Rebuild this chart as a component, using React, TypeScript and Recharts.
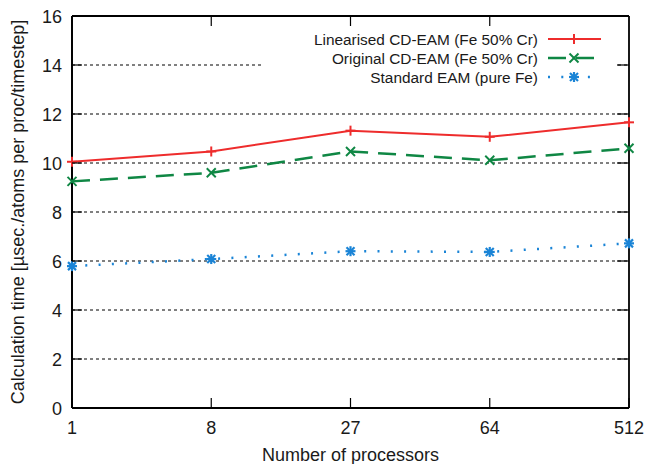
import {
  CartesianGrid,
  Legend,
  Line,
  LineChart,
  XAxis,
  YAxis,
} from "recharts";

const processors = ["1", "8", "27", "64", "512"];
const linearised = [10.05, 10.47, 11.32, 11.07, 11.66];
const original = [9.25, 9.6, 10.47, 10.11, 10.6];
const standard = [5.79, 6.08, 6.4, 6.37, 6.72];
const yTicks = [0, 2, 4, 6, 8, 10, 12, 14, 16];

const seriesNames = [
  "Linearised CD-EAM (Fe 50% Cr)",
  "Original CD-EAM (Fe 50% Cr)",
  "Standard EAM (pure Fe)",
];

const RED = "#ee2c2c";
const GREEN = "#0f8744";
const BLUE = "#1a84d6";
const FONT = "'Liberation Sans', Arial, Helvetica, sans-serif";

const data = processors.map((p, i) => ({
  procs: p,
  linearised: linearised[i],
  original: original[i],
  standard: standard[i],
}));

// gnuplot style point markers
const Plus = ({ cx, cy, color }: any) => (
  <g stroke={color} strokeWidth={2}>
    <line x1={cx - 5} x2={cx + 5} y1={cy} y2={cy} />
    <line x1={cx} x2={cx} y1={cy - 5} y2={cy + 5} />
  </g>
);

const Cross = ({ cx, cy, color }: any) => (
  <g stroke={color} strokeWidth={2}>
    <line x1={cx - 4.5} x2={cx + 4.5} y1={cy - 4.5} y2={cy + 4.5} />
    <line x1={cx - 4.5} x2={cx + 4.5} y1={cy + 4.5} y2={cy - 4.5} />
  </g>
);

const Star = ({ cx, cy, color }: any) => (
  <g stroke={color} strokeWidth={2.2}>
    <line x1={cx - 5} x2={cx + 5} y1={cy} y2={cy} />
    <line x1={cx} x2={cx} y1={cy - 5} y2={cy + 5} />
    <line x1={cx - 4} x2={cx + 4} y1={cy - 4} y2={cy + 4} />
    <line x1={cx - 4} x2={cx + 4} y1={cy + 4} y2={cy - 4} />
  </g>
);

const tickText = { fontSize: 18, fill: "#1a1a1a", fontFamily: FONT };

// ticks point inwards, like gnuplot
const LeftTick = ({ x, y, payload }: any) => (
  <g>
    <line x1={x} x2={x + 10} y1={y} y2={y} stroke="#000" strokeWidth={1.2} />
    <text x={x - 10} y={y + 6.5} textAnchor="end" {...tickText}>
      {payload.value}
    </text>
  </g>
);

const BottomTick = ({ x, y, payload }: any) => (
  <g>
    <line x1={x} x2={x} y1={y} y2={y - 10} stroke="#000" strokeWidth={1.2} />
    <text x={x} y={y + 26} textAnchor="middle" {...tickText}>
      {payload.value}
    </text>
  </g>
);

const lineIndex = (p: any) =>
  typeof p.index === "number"
    ? p.index
    : parseInt(String(p.key ?? "").split("-").pop() || "", 10);

// horizontal grid: dotted lines, mirrored right ticks, solid top/bottom frame
const HLine = (p: any) => {
  const i = lineIndex(p);
  const left = Math.min(p.x1, p.x2);
  const right = Math.max(p.x1, p.x2);
  if (i === 0 || i === yTicks.length - 1) {
    return (
      <line key={p.key} x1={left} x2={right} y1={p.y1} y2={p.y1} stroke="#000" strokeWidth={1.8} />
    );
  }
  return (
    <g key={p.key}>
      <line x1={left} x2={right} y1={p.y1} y2={p.y1} stroke="#000" strokeWidth={1} strokeDasharray="3 3" />
      <line x1={right - 12} x2={right} y1={p.y1} y2={p.y1} stroke="#000" strokeWidth={1.2} />
    </g>
  );
};

// vertical grid: only the mirrored top ticks and the solid right frame
const VLine = (p: any) => {
  const i = lineIndex(p);
  const top = Math.min(p.y1, p.y2);
  const bottom = Math.max(p.y1, p.y2);
  if (i === 0 || i === processors.length - 1) {
    return (
      <line key={p.key} x1={p.x1} x2={p.x1} y1={top} y2={bottom} stroke="#000" strokeWidth={1.8} />
    );
  }
  return (
    <line key={p.key} x1={p.x1} x2={p.x1} y1={top} y2={top + 10} stroke="#000" strokeWidth={1.2} />
  );
};

const LegendBox = () => {
  const rows = [
    { color: RED, dash: undefined, width: 2, Mark: Plus },
    { color: GREEN, dash: "18 10", width: 2.5, Mark: Cross },
    { color: BLUE, dash: "2 11.3", width: 2.5, Mark: Star },
  ];
  return (
    <svg width={355} height={62} style={{ display: "block" }}>
      {rows.map((r, i) => {
        const y = 11 + i * 19;
        return (
          <g key={i}>
            <text
              x={276}
              y={y + 5.5}
              textAnchor="end"
              fontSize={15.4}
              fill="#1a1a1a"
              fontFamily={FONT}>
              {seriesNames[i]}
            </text>
            <line
              x1={286}
              x2={339}
              y1={y}
              y2={y}
              stroke={r.color}
              strokeWidth={r.width}
              strokeDasharray={r.dash}
            />
            <r.Mark cx={312} cy={y} color={r.color} />
          </g>
        );
      })}
    </svg>
  );
};

export default function App() {
  const axisLine = { stroke: "#000", strokeWidth: 1.8 };
  return (
    <div
      style={{
        position: "absolute",
        left: 0,
        top: 0,
        width: 645,
        height: 464,
        background: "#fff",
      }}>
      <LineChart
        width={645}
        height={464}
        data={data}
        margin={{ top: 16, right: 16, bottom: 0, left: 0 }}>
        <CartesianGrid horizontal={HLine} vertical={VLine} />
        <XAxis
          dataKey="procs"
          height={56}
          interval={0}
          tickLine={false}
          tickSize={0}
          tickMargin={0}
          axisLine={axisLine}
          tick={BottomTick}
          label={{
            value: "Number of processors",
            position: "insideBottom",
            offset: 3,
            style: { fontSize: 18, fill: "#1a1a1a", fontFamily: FONT },
          }}
        />
        <YAxis
          width={72}
          domain={[0, 16]}
          ticks={yTicks}
          interval={0}
          tickLine={false}
          tickSize={0}
          tickMargin={0}
          axisLine={axisLine}
          tick={LeftTick}
          label={{
            value: "Calculation time [µsec./atoms per proc/timestep]",
            angle: -90,
            position: "center",
            dx: -18,
            style: { fontSize: 18, fill: "#1a1a1a", fontFamily: FONT },
          }}
        />
        <Legend
          layout="horizontal"
          verticalAlign="middle"
          align="center"
          content={() => <LegendBox />}
          wrapperStyle={{
            left: 262,
            top: 28,
            width: 355,
            height: 62,
            background: "#fff",
          }}
        />
        <Line
          type="linear"
          dataKey="linearised"
          name={seriesNames[0]}
          stroke={RED}
          strokeWidth={2}
          isAnimationActive={false}
          dot={(p: any) => (
            <Plus key={`l-${p.index}`} cx={p.cx} cy={p.cy} color={RED} />
          )}
          activeDot={false}
        />
        <Line
          type="linear"
          dataKey="original"
          name={seriesNames[1]}
          stroke={GREEN}
          strokeWidth={2.5}
          strokeDasharray="18 10"
          isAnimationActive={false}
          dot={(p: any) => (
            <Cross key={`o-${p.index}`} cx={p.cx} cy={p.cy} color={GREEN} />
          )}
          activeDot={false}
        />
        <Line
          type="linear"
          dataKey="standard"
          name={seriesNames[2]}
          stroke={BLUE}
          strokeWidth={2.5}
          strokeDasharray="2 11.3"
          isAnimationActive={false}
          dot={(p: any) => (
            <Star key={`s-${p.index}`} cx={p.cx} cy={p.cy} color={BLUE} />
          )}
          activeDot={false}
        />
      </LineChart>
    </div>
  );
}
